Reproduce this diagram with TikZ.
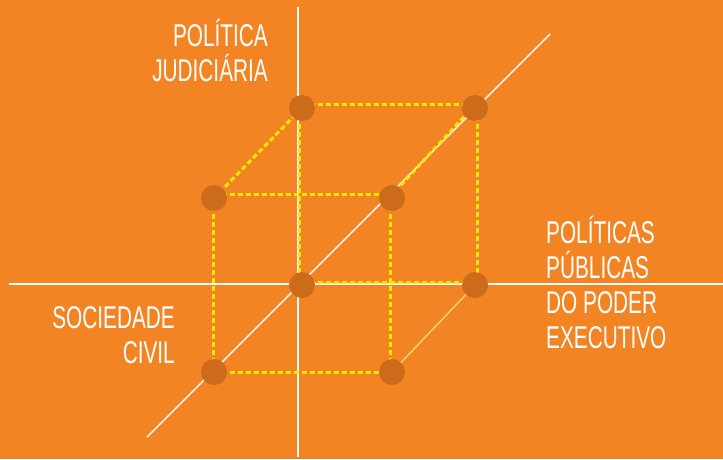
\documentclass[tikz,border=0pt]{standalone}
\usepackage{fontspec}
\newfontfamily\lblfont{Liberation Sans}[FakeStretch=0.66]
\definecolor{bgorange}{HTML}{F38423}
\definecolor{dotbrown}{HTML}{CC6B19}
\definecolor{cubeyellow}{HTML}{FFE800}
\definecolor{paleyellow}{HTML}{FFD27A}
\begin{document}
\begin{tikzpicture}[x=1pt,y=-1pt,
  axis/.style={draw=white,line width=1.4pt},
  cubedash/.style={draw=cubeyellow,line width=3pt,dash pattern=on 5pt off 3pt},
  cubesolid/.style={draw=paleyellow,line width=1.4pt},
  dot/.style={circle,fill=dotbrown,minimum size=26pt,inner sep=0pt},
  lbl/.style={text=white,font=\lblfont\fontsize{31.5}{35}\selectfont,inner sep=0pt}]
\fill[bgorange] (0,0) rectangle (723,459);
\useasboundingbox (0,0) rectangle (723,459);
% axes
\coordinate (vtop) at (298,7);
\coordinate (vbot) at (298,457);
\coordinate (hleft) at (9,284);
\coordinate (hright) at (723,284);
\coordinate (dlow) at (147,437);
\coordinate (dhigh) at (550,34);
\draw[axis] (vtop) -- (vbot);
\draw[axis] (hleft) -- (hright);
\draw[axis] (dlow) -- (dhigh);
% cube vertices
\coordinate (TB1) at (302,108);
\coordinate (TB2) at (475,108);
\coordinate (TF1) at (214,198);
\coordinate (TF2) at (392,198);
\coordinate (BB1) at (302,285);
\coordinate (BB2) at (475,285);
\coordinate (BF1) at (214,372);
\coordinate (BF2) at (392,372);
% cube edges
\draw[cubedash] ([yshift=4pt]TB1) -- ([yshift=4pt]TB2);
\draw[cubedash] (TF1) -- (TB1);
\draw[cubedash] ([xshift=-2pt,yshift=1pt]TF2) -- ([xshift=-2pt,yshift=1pt]TB2);
\draw[cubedash] ([yshift=4pt]TF1) -- ([yshift=4pt]TF2);
\draw[cubedash] ([xshift=-3pt]TB1) -- ([xshift=-3pt]BB1);
\draw[cubedash] ([xshift=2pt]TB2) -- ([xshift=2pt]BB2);
\draw[cubedash] ([xshift=-1pt]TF1) -- ([xshift=-1pt]BF1);
\draw[cubedash] ([xshift=-2pt]TF2) -- ([xshift=-2pt]BF2);
\draw[cubedash] (BF1) -- (BF2);
\draw[cubedash] ([yshift=3pt]BB1) -- ([yshift=3pt]BB2);
\draw[cubesolid] (BF2) -- (BB2);
% dots
\foreach \p in {TB1,TB2,TF1,TF2,BB1,BB2,BF1,BF2}
  \node[dot] (d\p) at (\p) {};
% labels
\node[lbl,align=right,anchor=base east] (pj) at (268,81) {POLÍTICA\\JUDICIÁRIA};
\node[lbl,align=left,anchor=base west] (pp) at (546,348) {POLÍTICAS\\PÚBLICAS\\DO PODER\\EXECUTIVO};
\node[lbl,align=right,anchor=base east] (sc) at (175,363) {SOCIEDADE\\CIVIL};
\end{tikzpicture}
\end{document}
